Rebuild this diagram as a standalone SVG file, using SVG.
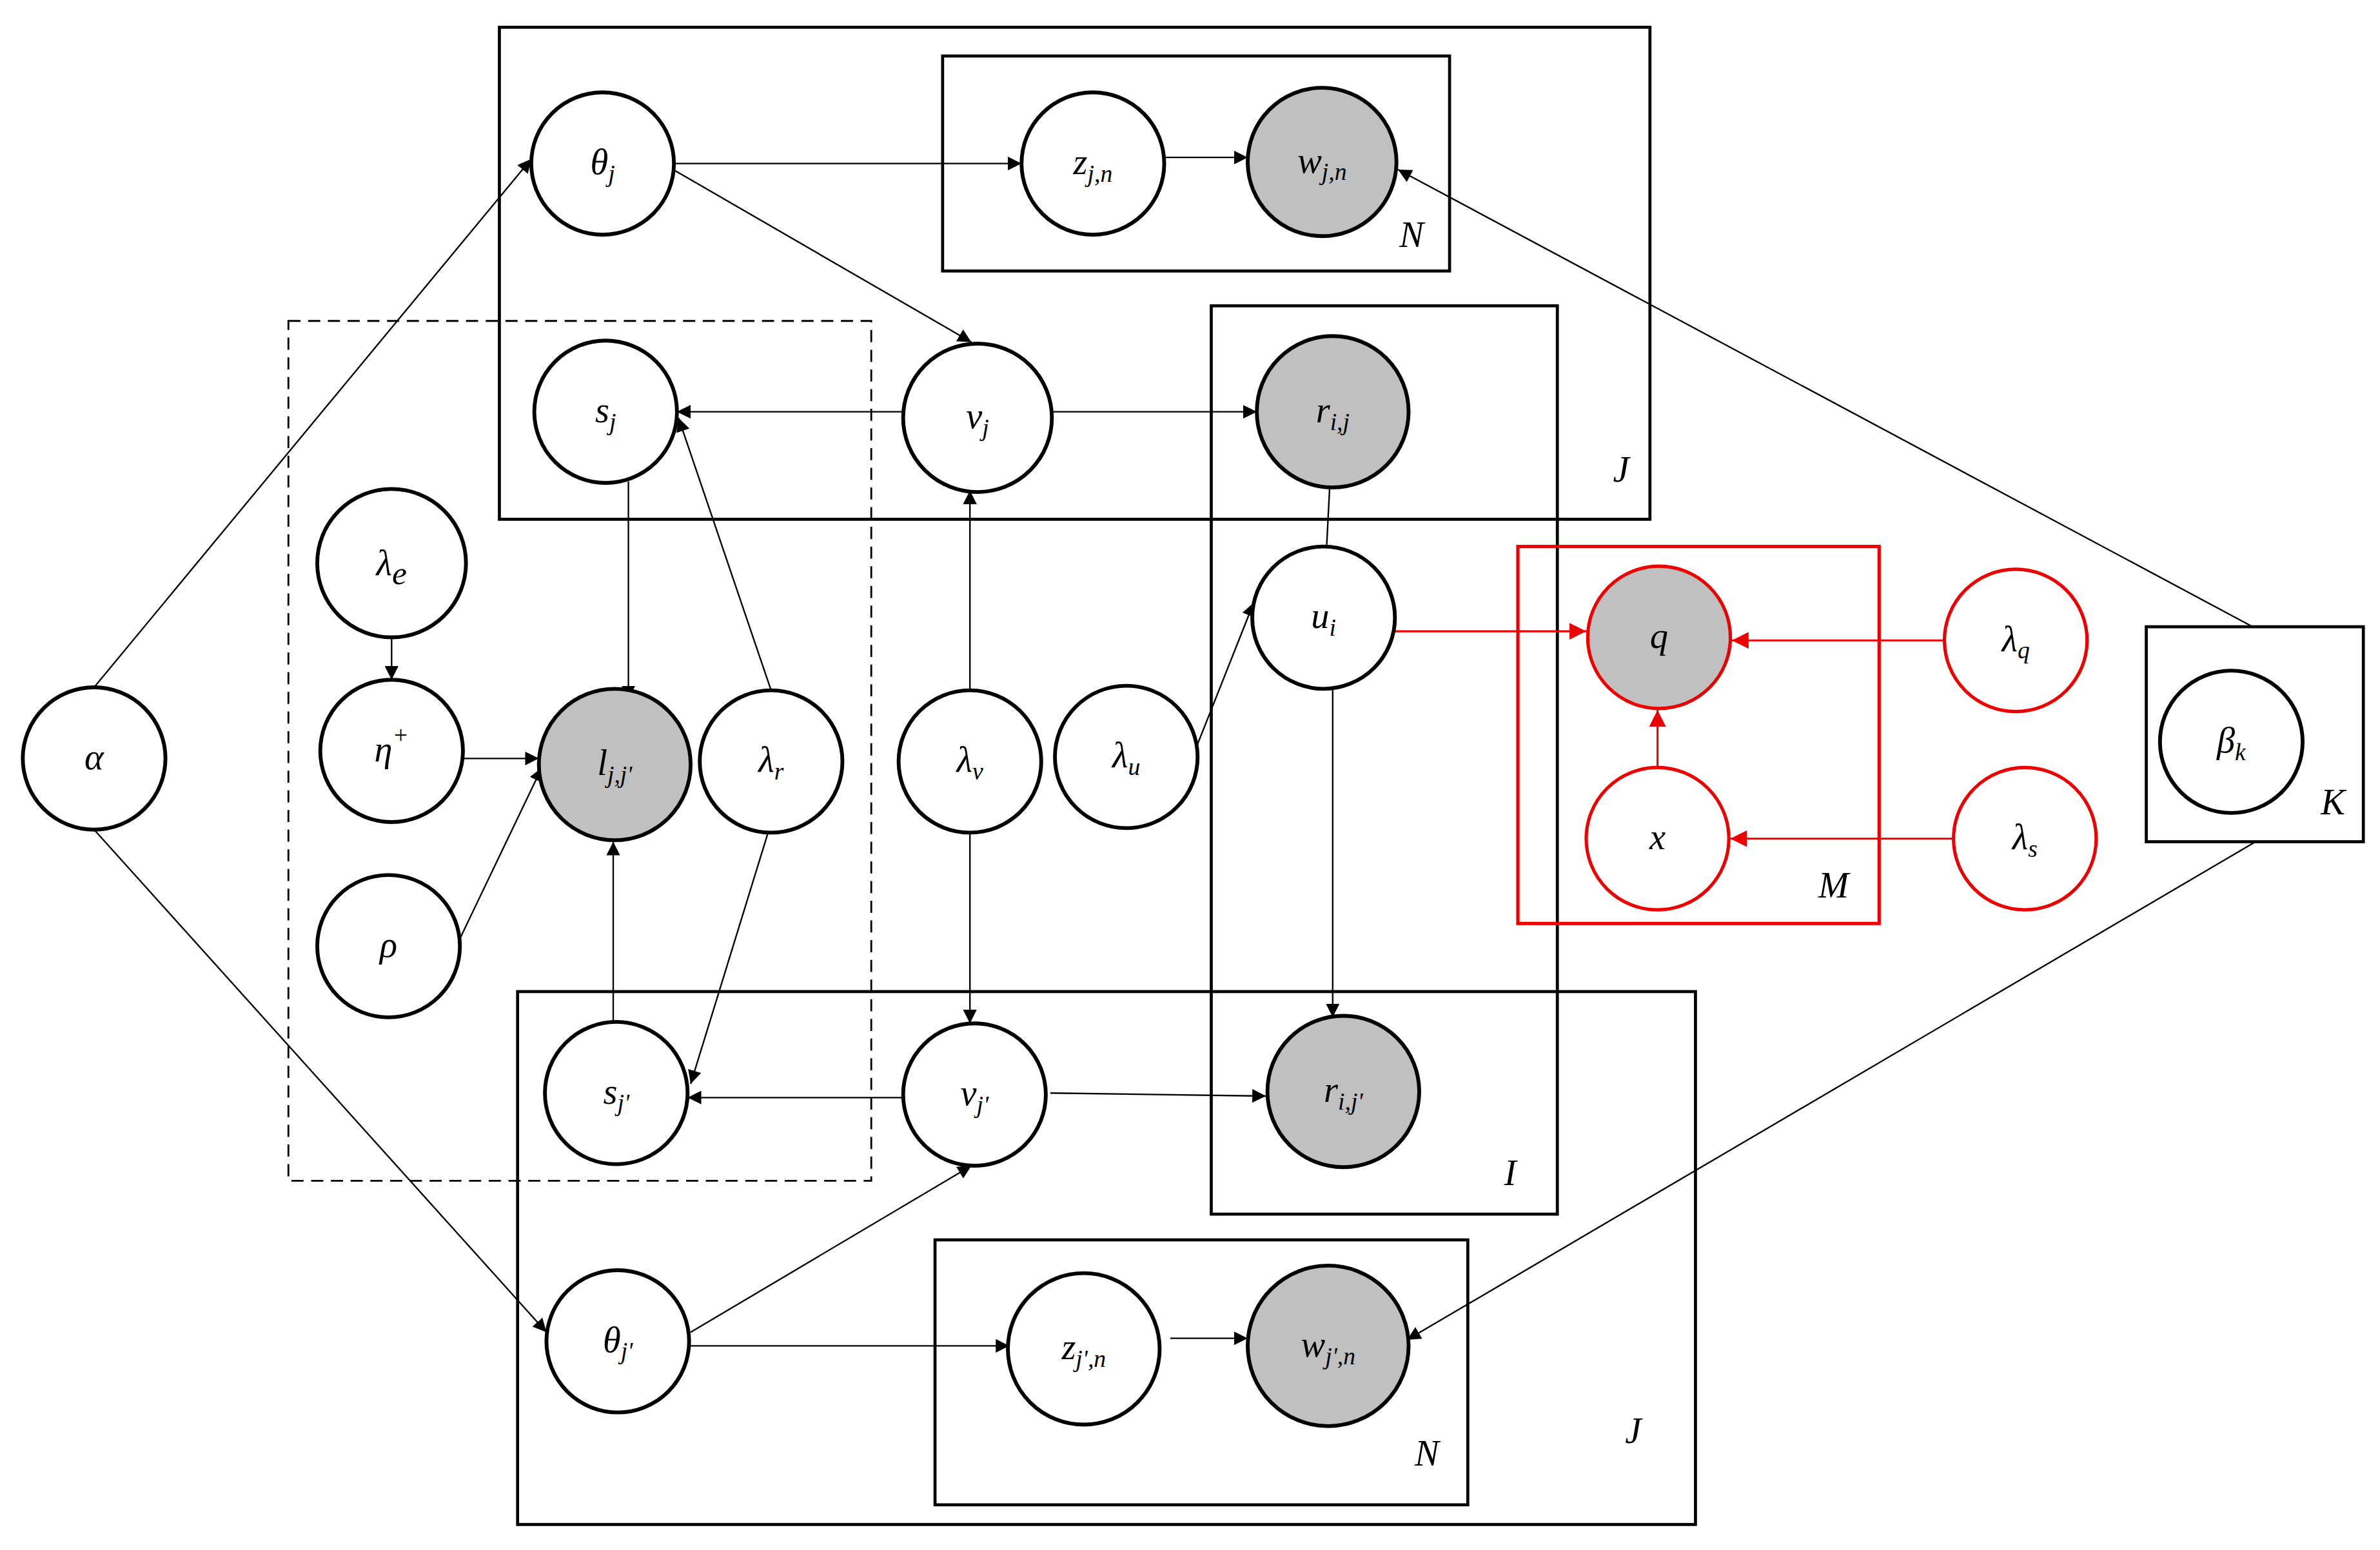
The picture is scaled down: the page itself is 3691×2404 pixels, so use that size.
<svg xmlns="http://www.w3.org/2000/svg" width="3691" height="2404" viewBox="0 0 3691 2404">
<defs>
<marker id="a" viewBox="0 0 10 10" refX="10" refY="5" markerWidth="9" markerHeight="9" markerUnits="userSpaceOnUse" orient="auto"><path d="M0,0L10,5L0,10z" fill="#000"/></marker>
<marker id="r" viewBox="0 0 10 10" refX="10" refY="5" markerWidth="11" markerHeight="11" markerUnits="userSpaceOnUse" orient="auto"><path d="M0,0L10,5L0,10z" fill="#e00"/></marker>
</defs>
<style>
.n{fill:#fff;stroke:#000;stroke-width:2.5}
.g{fill:#c0c0c0;stroke:#000;stroke-width:2.5}
.rn{fill:#fff;stroke:#e00;stroke-width:2.2}
.rg{fill:#c0c0c0;stroke:#e00;stroke-width:2.2}
.p{fill:none;stroke:#000;stroke-width:2}
.e{stroke:#000;stroke-width:1;fill:none;marker-end:url(#a)}
.re{stroke:#e00;stroke-width:1.3;fill:none;marker-end:url(#r)}
text{font-family:"Liberation Serif",serif;font-style:italic;font-size:24px;text-anchor:middle;fill:#000}
.s{font-size:16px}
.pl{font-size:24px}
</style>
<rect width="3691" height="2404" fill="#fff"/>
<g transform="scale(2.354 2.348)">
<g id="plates">
<rect class="p" x="329" y="18" width="758" height="325"/>
<rect class="p" x="621" y="37" width="334" height="142"/>
<rect class="p" x="798" y="202" width="228" height="600"/>
<rect class="p" x="341" y="655" width="776" height="352"/>
<rect class="p" x="616" y="819" width="351" height="175"/>
<rect x="190" y="212" width="384" height="568" fill="none" stroke="#000" stroke-width="1.2" stroke-dasharray="8,5"/>
<rect x="1000" y="361" width="238" height="249" fill="none" stroke="#e00" stroke-width="2.2"/>
<rect class="p" x="1414" y="414" width="143" height="142"/>
<text class="pl" x="930" y="163">N</text>
<text class="pl" x="1068" y="318">J</text>
<text class="pl" x="995" y="783">I</text>
<text class="pl" x="1076" y="953">J</text>
<text class="pl" x="940" y="968">N</text>
<text class="pl" x="1208" y="593">M</text>
<text class="pl" x="1537" y="538">K</text>
</g>
<g id="connectors">
<line class="e" x1="62" y1="454" x2="350" y2="105"/>
<line class="e" x1="62" y1="548" x2="360" y2="880"/>
<line class="e" x1="444" y1="108" x2="673" y2="108"/>
<line class="e" x1="767" y1="104" x2="822" y2="104"/>
<line class="e" x1="440" y1="110" x2="640" y2="226"/>
<line class="e" x1="595" y1="272" x2="446" y2="272"/>
<line class="e" x1="694" y1="272" x2="828" y2="272"/>
<line class="e" x1="1484" y1="414" x2="921" y2="112"/>
<line class="e" x1="1486" y1="556" x2="927" y2="885"/>
<line class="e" x1="414" y1="318" x2="414" y2="462"/>
<line class="e" x1="508" y1="456" x2="447" y2="276"/>
<line class="e" x1="258" y1="421" x2="258" y2="449"/>
<line class="e" x1="305" y1="501" x2="355" y2="501"/>
<line class="e" x1="303" y1="620" x2="357" y2="507"/>
<line class="e" x1="404" y1="676" x2="404" y2="556"/>
<line class="e" x1="506" y1="550" x2="455" y2="716"/>
<line class="e" x1="639" y1="456" x2="639" y2="324"/>
<line class="e" x1="639" y1="550" x2="639" y2="676"/>
<line class="e" x1="788" y1="494" x2="826" y2="398"/>
<line x1="876" y1="322" x2="874" y2="361" stroke="#000" stroke-width="1"/>
<line class="e" x1="878" y1="454" x2="878" y2="672"/>
<line class="e" x1="596" y1="725" x2="453" y2="725"/>
<line class="e" x1="692" y1="722" x2="834" y2="724"/>
<line class="e" x1="455" y1="880" x2="640" y2="770"/>
<line class="e" x1="453" y1="889" x2="665" y2="889"/>
<line class="e" x1="771" y1="884" x2="822" y2="884"/>
<line class="re" x1="919" y1="417" x2="1045" y2="417"/>
<line class="re" x1="1281" y1="423" x2="1141" y2="423"/>
<line class="re" x1="1092" y1="507" x2="1092" y2="469"/>
<line class="re" x1="1287" y1="554" x2="1140" y2="554"/>
</g>
<g id="alpha"><circle class="n" cx="62" cy="501" r="47"/><text x="62" y="508">α</text></g>
<g id="theta_j"><circle class="n" cx="397" cy="108" r="47"/><text x="397" y="115">θ<tspan class="s" dy="5">j</tspan></text></g>
<g id="z_jn"><circle class="n" cx="720" cy="108" r="47"/><text x="720" y="115">z<tspan class="s" dy="5">j,n</tspan></text></g>
<g id="w_jn"><circle class="g" cx="871" cy="107" r="49"/><text x="871" y="114">w<tspan class="s" dy="5">j,n</tspan></text></g>
<g id="s_j"><circle class="n" cx="399" cy="272" r="47"/><text x="399" y="279" font-size="28">s<tspan class="s" dy="5">j</tspan></text></g>
<g id="v_j"><circle class="n" cx="644" cy="276" r="49"/><text x="644" y="283" font-size="30">v<tspan class="s" dy="5">j</tspan></text></g>
<g id="r_ij"><circle class="g" cx="878" cy="272" r="50"/><text x="878" y="279" font-size="26">r<tspan class="s" dy="5">i,j</tspan></text></g>
<g id="lambda_e"><circle class="n" cx="258" cy="372" r="49"/><text x="258" y="380" font-size="32">λ<tspan font-size="22" dy="6">e</tspan></text></g>
<g id="eta"><circle class="n" cx="258" cy="496" r="47"/><text x="258" y="503" font-size="28">η<tspan class="s" dy="-12">+</tspan></text></g>
<g id="l_jj"><circle class="g" cx="405" cy="505" r="50"/><text x="405" y="512" font-size="26">l<tspan class="s" dy="5">j,j'</tspan></text></g>
<g id="lambda_r"><circle class="n" cx="508" cy="503" r="47"/><text x="508" y="510" font-size="26">λ<tspan class="s" dy="5">r</tspan></text></g>
<g id="lambda_v"><circle class="n" cx="639" cy="503" r="47"/><text x="639" y="510" font-size="26">λ<tspan class="s" dy="5">v</tspan></text></g>
<g id="lambda_u"><circle class="n" cx="742" cy="500" r="47"/><text x="742" y="507" font-size="26">λ<tspan class="s" dy="5">u</tspan></text></g>
<g id="u_i"><circle class="n" cx="872" cy="408" r="47"/><text x="872" y="415">u<tspan class="s" dy="5">i</tspan></text></g>
<g id="q"><circle class="rg" cx="1093" cy="421" r="47"/><text x="1093" y="428" font-size="26">q</text></g>
<g id="lambda_q"><circle class="rn" cx="1328" cy="423" r="47"/><text x="1328" y="430" font-size="26">λ<tspan class="s" dy="5">q</tspan></text></g>
<g id="x"><circle class="rn" cx="1092" cy="554" r="47"/><text x="1092" y="561">x</text></g>
<g id="lambda_s"><circle class="rn" cx="1334" cy="554" r="47"/><text x="1334" y="561" font-size="26">λ<tspan class="s" dy="5">s</tspan></text></g>
<g id="beta_k"><circle class="n" cx="1470" cy="490" r="47"/><text x="1470" y="497" font-size="26">β<tspan class="s" dy="5">k</tspan></text></g>
<g id="rho"><circle class="n" cx="256" cy="625" r="47"/><text x="256" y="632">ρ</text></g>
<g id="s_j2"><circle class="n" cx="406" cy="722" r="47"/><text x="406" y="729">s<tspan class="s" dy="5">j'</tspan></text></g>
<g id="v_j2"><circle class="n" cx="642" cy="723" r="47"/><text x="642" y="730" font-size="30">v<tspan class="s" dy="5">j'</tspan></text></g>
<g id="r_ij2"><circle class="g" cx="885" cy="721" r="50"/><text x="885" y="728" font-size="26">r<tspan class="s" dy="5">i,j'</tspan></text></g>
<g id="theta_j2"><circle class="n" cx="407" cy="886" r="47"/><text x="407" y="893">θ<tspan class="s" dy="5">j'</tspan></text></g>
<g id="z_j2n"><circle class="n" cx="714" cy="891" r="50"/><text x="714" y="898">z<tspan class="s" dy="5">j',n</tspan></text></g>
<g id="w_j2n"><circle class="g" cx="875" cy="889" r="53"/><text x="875" y="896">w<tspan class="s" dy="5">j',n</tspan></text></g>
</g>
</svg>
